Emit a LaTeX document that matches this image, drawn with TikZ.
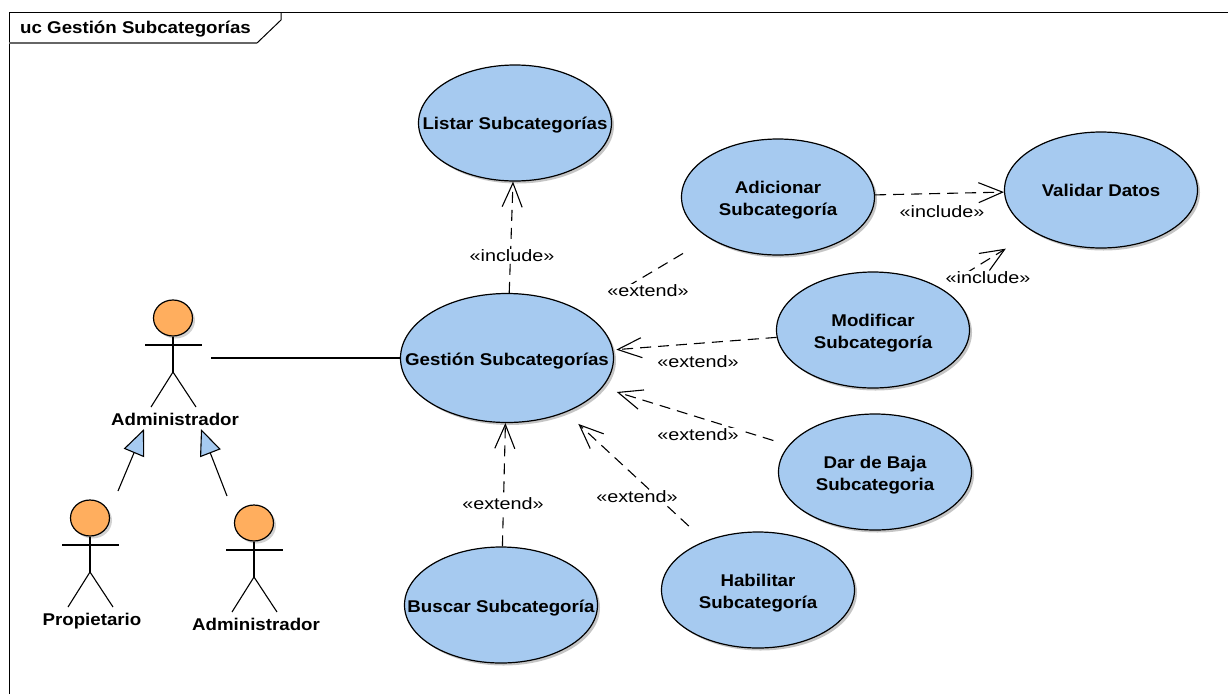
\documentclass[tikz,border=0pt]{standalone}
\usepackage{fontspec}
\setmainfont[FakeStretch=1.1]{Liberation Sans}
\newfontfamily\stereofont[FakeStretch=1.2]{Liberation Sans}
\usetikzlibrary{arrows.meta,shapes.geometric,shadows}
\definecolor{casefill}{RGB}{166,202,240}
\definecolor{actorfill}{RGB}{255,174,94}
\newcommand{\lowr}{\rule{0pt}{18pt}}
\tikzset{
  usecase/.style={ellipse,draw=black,line width=1.2pt,fill=casefill,inner xsep=-50pt,inner ysep=-30pt,minimum width=193pt,minimum height=116pt,align=center,font=\fontsize{17}{22}\selectfont\bfseries,drop shadow={shadow xshift=2.5pt,shadow yshift=-2.5pt,fill=black!45}},
  actorhead/.style={ellipse,draw=black,line width=1.2pt,fill=actorfill,inner sep=0pt,minimum width=39pt,minimum height=36pt,drop shadow={shadow xshift=2.5pt,shadow yshift=-2.5pt,fill=black!35}},
  actorname/.style={font=\fontsize{17}{18}\selectfont\bfseries,inner sep=0pt,text height=12pt,text depth=0pt},
  stereo/.style={font=\fontsize{16.5}{18}\stereofont,fill=white,inner sep=1pt},
  depend/.style={line width=1.1pt,dash pattern=on 11pt off 7pt,-{Straight Barb[length=24pt,width=20pt,line width=1.1pt]}},
  general/.style={line width=1.1pt,-{Triangle[open,length=26pt,width=22pt,fill=casefill,line width=1.1pt]}}
}
\begin{document}
\begin{tikzpicture}[x=1pt,y=-1pt]
\useasboundingbox (0,0) rectangle (1228,694);

% frame
\draw[line width=1pt] (9,694) -- (9,12) -- (1228,12);
\draw[line width=1pt] (281,12) -- (281,20) -- (257,43);
\draw[line width=1.4pt,black!60] (9,43) -- (257,43);
\node[font=\fontsize{17}{18}\selectfont\bfseries,anchor=west,inner sep=0pt] (frametitle) at (20,29) {uc Gestión Subcategorías};

% use cases
\node[usecase] (listar) at (515,123) {\rule{0pt}{16pt}Listar Subcategorías};
\node[usecase] (adicionar) at (778,197) {\lowr Adicionar\\Subcategoría};
\node[usecase] (validar) at (1101,190) {Validar Datos};
\node[usecase] (modificar) at (873,330) {\lowr Modificar\\Subcategoría};
\node[usecase,minimum width=213pt,minimum height=129pt] (gestion) at (507,358) {\lowr Gestión Subcategorías};
\node[usecase] (baja) at (875,472) {\lowr Dar de Baja\\Subcategoria};
\node[usecase] (habilitar) at (758,590) {\lowr Habilitar\\Subcategoría};
\node[usecase] (buscar) at (501,605) {\lowr Buscar Subcategoría};

% actors
\foreach \name/\cx/\cy/\txt in {admin/173/318/Administrador,prop/90/518/Propietario,adminb/254/523/Administrador}{
  \node[actorhead] (\name) at (\cx,\cy) {};
  \draw[line width=1.1pt] (\name.south) -- (\cx,\cy+54);
  \draw[line width=1.1pt] (\cx-28,\cy+27) -- (\cx+29,\cy+27);
  \draw[line width=1.1pt] (\cx-22,\cy+89) -- (\cx,\cy+54) -- (\cx+23,\cy+89);
  \node[actorname] (\name name) at (\cx+2,\cy+101) {\txt};
}

% free ends
\coordinate (adminright) at (211,358);
\coordinate (propup) at (118,491);
\coordinate (proptip) at (144,429);
\coordinate (adminbup) at (227,496);
\coordinate (adminbtip) at (201,429);
\coordinate (modifup) at (950,283);

\draw[line width=1.1pt] (adminright) -- (gestion);
\draw[general] (propup) -- (proptip);
\draw[general] (adminbup) -- (adminbtip);

\draw[depend] (gestion) -- (listar);
\draw[depend] (adicionar) -- (validar);
\draw[depend,shorten >=32pt] (modifup) -- (validar);
\draw[line width=1.1pt,dash pattern=on 11pt off 7pt,shorten <=30pt,shorten >=50pt] (adicionar) -- (gestion);
\draw[depend,shorten >=3pt] (modificar) -- (gestion);
\draw[depend,shorten <=16pt,shorten >=15pt] (baja) -- (gestion);
\draw[depend,shorten <=22pt,shorten >=17pt] (habilitar) -- (gestion);
\draw[depend] (buscar) -- (gestion);

% stereotypes
\node[stereo] (inclista) at (512,256) {«include»};
\node[stereo] (incadic) at (942,212) {«include»};
\node[stereo] (incmodi) at (988,278) {«include»};
\node[stereo] (extadic) at (648,291) {«extend»};
\node[stereo] (extmodi) at (698,362) {«extend»};
\node[stereo] (extbaja) at (698,435) {«extend»};
\node[stereo] (exthabi) at (637,497) {«extend»};
\node[stereo] (extbusc) at (503,504) {«extend»};

\end{tikzpicture}
\end{document}
